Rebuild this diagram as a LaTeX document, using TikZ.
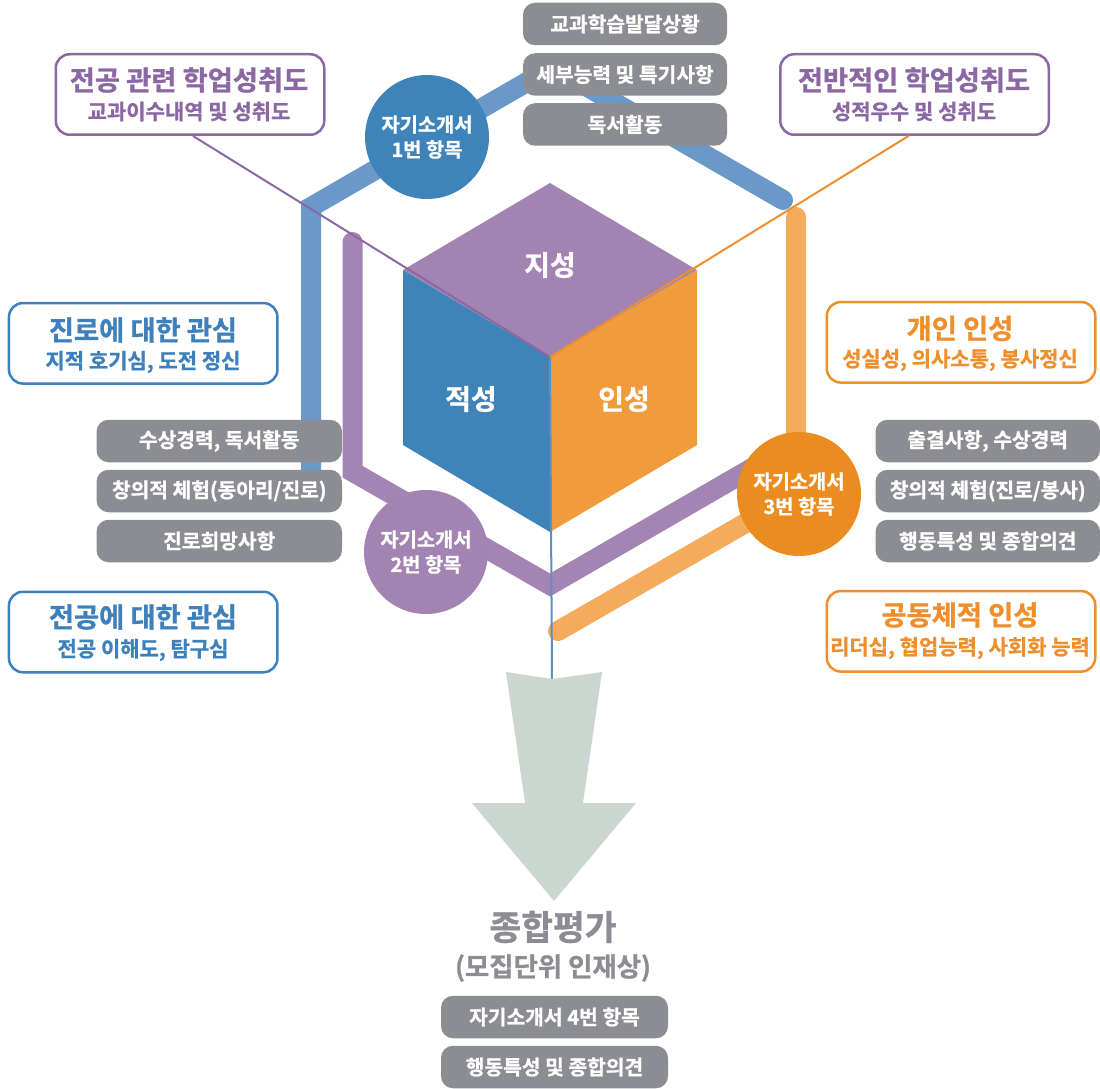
\documentclass[tikz,border=0pt]{standalone}
\usepackage{fontspec}
\setmainfont{Noto Sans CJK KR}[BoldFont={Noto Sans CJK KR Bold}, BoldFeatures={FakeBold=1}]
\usetikzlibrary{calc}
\definecolor{cpurple}{HTML}{8B68A4}
\definecolor{cblue}{HTML}{3D80BC}
\definecolor{corange}{HTML}{EF8F2B}
\definecolor{cgray}{HTML}{8C8D92}
\definecolor{ftop}{HTML}{A383B2}
\definecolor{fleft}{HTML}{3F84B8}
\definecolor{fright}{HTML}{F09C3D}
\definecolor{barblue}{HTML}{6A99C9}
\definecolor{barpurple}{HTML}{A484B3}
\definecolor{barorange}{HTML}{F4AC5C}
\definecolor{circorange}{HTML}{EB8C20}
\definecolor{arrowcol}{HTML}{CBD6D0}
\definecolor{lineblue}{HTML}{5B8FC8}
\begin{document}
\begin{tikzpicture}[x=1pt,y=-1pt,
  bar/.style={line width=20pt, line cap=round, line join=miter},
  thinline/.style={line width=2pt},
  graybox/.style={rectangle, rounded corners=12pt, fill=cgray, text=white, minimum width=#1, minimum height=42.5pt, inner sep=0pt, font=\bfseries\fontsize{20.3}{23}\selectfont},
  outbox/.style={rectangle, rounded corners=14pt, draw=#1, line width=2.5pt, fill=white, minimum width=268.5pt, minimum height=80.5pt, inner sep=0pt},
  ttl/.style={inner sep=0pt, text=#1, font=\bfseries\fontsize{27.3}{30}\selectfont},
  subttl/.style={inner sep=0pt, text=#1, font=\bfseries\fontsize{21}{24}\selectfont},
  circ/.style={circle, fill=#1, minimum size=124pt, inner sep=0pt, text=white, align=center, font=\bfseries\fontsize{19.8}{25}\selectfont},
  cubelbl/.style={inner sep=0pt, text=white, font=\bfseries\fontsize{28}{31}\selectfont},
  bigtxt/.style={inner sep=0pt, text=cgray, font=\bfseries\fontsize{34.5}{38}\selectfont},
  midtxt/.style={inner sep=0pt, text=cgray, font=\bfseries\fontsize{26.4}{29}\selectfont}
]
\useasboundingbox (0,0) rectangle (1100,1089);

% coordinates
\coordinate (ct) at (550,183);
\coordinate (cul) at (403,270);
\coordinate (cur) at (697,270);
\coordinate (cc) at (550,357);
\coordinate (cll) at (403,445);
\coordinate (clr) at (697,445);
\coordinate (cb) at (550,532);
\coordinate (notch) at (552,679);

% bars
\draw[bar, barblue] (311,490) -- (311,207) -- (553,67) -- (783,200);
\draw[bar, barpurple] (352.5,242) -- (352.5,471.7) -- (550,585) -- (785,449);
\draw[bar, barorange] (796,217) -- (796,494) -- (558,631);

% cube
\fill[ftop] (ct) -- (cur) -- (cc) -- (cul) -- cycle;
\fill[fleft] (cul) -- (cc) -- (cb) -- (cll) -- cycle;
\fill[fright] (cur) -- (cc) -- (cb) -- (clr) -- cycle;
\node[cubelbl] (lz) at (550,265) {지성};
\node[cubelbl] (la) at (471,399) {적성};
\node[cubelbl] (li) at (624,399) {인성};

% outlined boxes
\node[outbox=cpurple] (tl) at (190,94.5) {};
\node[outbox=cpurple] (tr) at (914.5,94.5) {};
\node[outbox=cblue] (l1) at (143.2,343.3) {};
\node[outbox=cblue] (l2) at (143.2,632) {};
\node[outbox=corange] (r1) at (961,342.3) {};
\node[outbox=corange] (r2) at (961,631.3) {};

\node[ttl=cpurple] (tlt) at (189,80) {전공 관련 학업성취도};
\node[subttl=cpurple] (tls) at (189,111.5) {교과이수내역 및 성취도};
\node[ttl=cpurple] (trt) at (914,80) {전반적인 학업성취도};
\node[subttl=cpurple] (trs) at (914,111.5) {성적우수 및 성취도};
\node[ttl=cblue] (l1t) at (143,330) {진로에 대한 관심};
\node[subttl=cblue] (l1s) at (143,362) {지적 호기심, 도전 정신};
\node[ttl=cblue] (l2t) at (143,617) {전공에 대한 관심};
\node[subttl=cblue] (l2s) at (143,650) {전공 이해도, 탐구심};
\node[ttl=corange] (r1t) at (960,328.5) {개인 인성};
\node[subttl=corange] (r1s) at (960,360) {성실성, 의사소통, 봉사정신};
\node[ttl=corange] (r2t) at (960,615) {공동체적 인성};
\node[subttl=corange] (r2s) at (960,648) {리더십, 협업능력, 사회화 능력};

% thin pointer lines
\draw[thinline, cpurple] ([xshift=3pt]tl.south) -- (cc);
\draw[thinline, corange] ([xshift=-6pt]tr.south) -- (cc);
\draw[thinline, lineblue] (cc) -- (notch);

% arrow
\fill[arrowcol] (506,672) -- (notch) -- (602,672) -- (583,803) -- (636,803) -- (554,901) -- (472,803) -- (525,803) -- cycle;
\node[bigtxt] (sum) at (553,927) {종합평가};
\node[midtxt] (sumsub) at (553,968) {(모집단위 인재상)};

% circles
\node[circ=fleft] (c1) at (427,137) {자기소개서\\1번 항목};
\node[circ=ftop] (c2) at (426,552) {자기소개서\\2번 항목};
\node[circ=circorange] (c3) at (799,494) {자기소개서\\3번 항목};

% gray boxes
\node[graybox=204pt] (g1) at (625,24) {교과학습발달상황};
\node[graybox=204pt] (g2) at (625,74.5) {세부능력 및 특기사항};
\node[graybox=204pt] (g3) at (625,124.5) {독서활동};
\node[graybox=245.5pt] (gl1) at (219.25,441) {수상경력, 독서활동};
\node[graybox=245.5pt] (gl2) at (219.25,491) {창의적 체험(동아리/진로)};
\node[graybox=245.5pt] (gl3) at (219.25,541) {진로희망사항};
\node[graybox=224.5pt] (gr1) at (987.75,441) {출결사항, 수상경력};
\node[graybox=224.5pt] (gr2) at (987.75,491) {창의적 체험(진로/봉사)};
\node[graybox=224.5pt] (gr3) at (987.75,541) {행동특성 및 종합의견};
\node[graybox=227pt] (gb1) at (554.5,1017) {자기소개서 4번 항목};
\node[graybox=227pt] (gb2) at (554.5,1067) {행동특성 및 종합의견};
\end{tikzpicture}
\end{document}
